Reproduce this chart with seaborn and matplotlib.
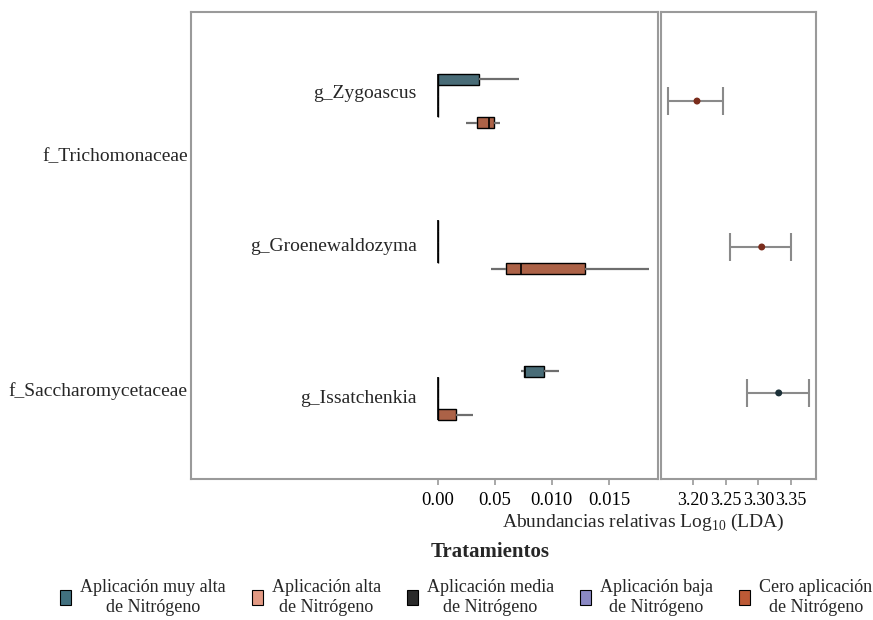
import numpy as np
import pandas as pd
import matplotlib
matplotlib.use("Agg")
import matplotlib.pyplot as plt
from matplotlib.patches import Patch
from matplotlib.transforms import blended_transform_factory
import seaborn as sns

# ---- data -------------------------------------------------------------
generos = ["g_Zygoascus", "g_Groenewaldozyma", "g_Issatchenkia"]
familias = ["f_Trichomonaceae", "f_Saccharomycetaceae"]
familia_y = [0.38, 1.99]

tratamientos = [
    "Aplicación muy alta\nde Nitrógeno",
    "Aplicación alta\nde Nitrógeno",
    "Aplicación media\nde Nitrógeno",
    "Aplicación baja\nde Nitrógeno",
    "Cero aplicación\nde Nitrógeno",
]
colores = ["#41707f", "#e39a84", "#2a2a2a", "#8a88c4", "#bd5a36"]

# relative abundance samples per genus, one list per treatment
zygoascus = [
    [0.0, 0.0, 0.0, 0.0036, 0.0071],
    [0.0, 0.0, 0.0, 0.0, 0.0],
    [0.0, 0.0, 0.0, 0.0, 0.0],
    [0.0, 0.0, 0.0, 0.0, 0.0],
    [0.00246, 0.00342, 0.00447, 0.00491, 0.00544],
]
groenewaldozyma = [
    [0.0, 0.0, 0.0, 0.0, 0.0],
    [0.0, 0.0, 0.0, 0.0, 0.0],
    [0.0, 0.0, 0.0, 0.0, 0.0],
    [0.0, 0.0, 0.0, 0.0, 0.0],
    [0.00465, 0.00596, 0.00728, 0.0129, 0.0185],
]
issatchenkia = [
    [0.00728, 0.00754, 0.00768, 0.0093, 0.0106],
    [0.0, 0.0, 0.0, 0.0, 0.0],
    [0.0, 0.0, 0.0, 0.0, 0.0],
    [0.0, 0.0, 0.0, 0.0, 0.0],
    [0.0, 0.0, 0.0, 0.00158, 0.00307],
]

# LDA score (log10) with interval
lda = [3.206, 3.305, 3.331]
lda_low = [3.162, 3.256, 3.283]
lda_high = [3.246, 3.350, 3.377]
lda_color = ["#7a2c1c", "#7a2c1c", "#1b3038"]

abund_ticks = [0.0, 0.005, 0.010, 0.015]
abund_ticklabels = ["0.00", "0.05", "0.010", "0.015"]
lda_ticks = [3.20, 3.25, 3.30, 3.35]
lda_ticklabels = ["3.20", "3.25", "3.30", "3.35"]

# ---- long table -------------------------------------------------------
rows = []
for gen, muestras in zip(generos, [zygoascus, groenewaldozyma, issatchenkia]):
    for trat, vals in zip(tratamientos, muestras):
        for v in vals:
            rows.append({"genero": gen, "tratamiento": trat, "abundancia": v})
df = pd.DataFrame(rows)

# ---- style ------------------------------------------------------------
sns.set_style("white")
plt.rcParams["font.family"] = ["Liberation Serif", "DejaVu Serif"]
plt.rcParams["mathtext.fontset"] = "custom"
plt.rcParams["mathtext.rm"] = "Liberation Serif"
spine_c = "#9a9a9a"

fig = plt.figure(figsize=(8.73, 6.2), dpi=100)
ax = fig.add_axes([0.2188, 0.2274, 0.535, 0.7532])
ax2 = fig.add_axes([0.7572, 0.2274, 0.1775, 0.7532])

sns.boxplot(
    data=df, y="genero", x="abundancia", hue="tratamiento",
    order=generos, hue_order=tratamientos, palette=colores,
    orient="h", width=0.37, gap=0, dodge=True,
    whis=(0, 100), showcaps=False, showfliers=False,
    linecolor="black", linewidth=1.0,
    whiskerprops={"color": "#6e6e6e", "linewidth": 1.6},
    medianprops={"color": "black", "linewidth": 1.2},
    legend=False, ax=ax,
)

ylim = (2.59, -0.61)
ax.set_ylim(*ylim)
ax.set_xlim(-0.02158, 0.0193)
ax.set_yticks([])
ax.set_xticks(abund_ticks)
ax.set_xticklabels(abund_ticklabels, fontsize=13.5)
ax.set_xlabel("")
ax.set_ylabel("")

# genus labels inside the panel
for i, (gen, dy) in enumerate(zip(generos, [-0.05, 0.0, 0.04])):
    ax.text(-0.0018, i + dy, gen, ha="right", va="center", fontsize=14)

# family labels outside, on the left
tr = blended_transform_factory(ax.transAxes, ax.transData)
for fam, fy in zip(familias, familia_y):
    ax.text(-0.007, fy, fam, ha="right", va="center", fontsize=14, transform=tr)

# LDA panel
ax2.errorbar(
    lda, range(len(generos)),
    xerr=[np.subtract(lda, lda_low), np.subtract(lda_high, lda)],
    fmt="none", ecolor="#8a8a8a", elinewidth=1.5, capsize=10, capthick=1.5,
)
ax2.scatter(lda, range(len(generos)), c=lda_color, s=16, zorder=3)
ax2.set_ylim(*ylim)
ax2.set_xlim(3.151, 3.388)
ax2.set_yticks([])
ax2.set_xticks(lda_ticks)
ax2.set_xticklabels(lda_ticklabels, fontsize=13)

for a in (ax, ax2):
    for s in a.spines.values():
        s.set_visible(True)
        s.set_color(spine_c)
        s.set_linewidth(1.5)
    a.tick_params(axis="x", bottom=True, direction="out", length=4,
                  width=1.2, color=spine_c, pad=5, labelcolor="black")

fig.text(0.737, 0.158, "Abundancias relativas Log$_{\\mathregular{10}}$ (LDA)",
         ha="center", va="center", fontsize=14)

# legend
fig.text(0.561, 0.109, "Tratamientos", ha="center", va="center",
         fontsize=15, fontweight="bold")
handles = [Patch(facecolor=c, edgecolor="black", linewidth=0.8) for c in colores]
leg = fig.legend(
    handles, tratamientos, loc="upper center", bbox_to_anchor=(0.534, 0.066),
    ncol=5, frameon=False, fontsize=13,
    handlelength=0.6, handleheight=0.9, handletextpad=0.5, columnspacing=1.45,
    borderaxespad=0, borderpad=0,
)
for t in leg.get_texts():
    t.set_multialignment("center")

fig.savefig("out.png", dpi=100)
